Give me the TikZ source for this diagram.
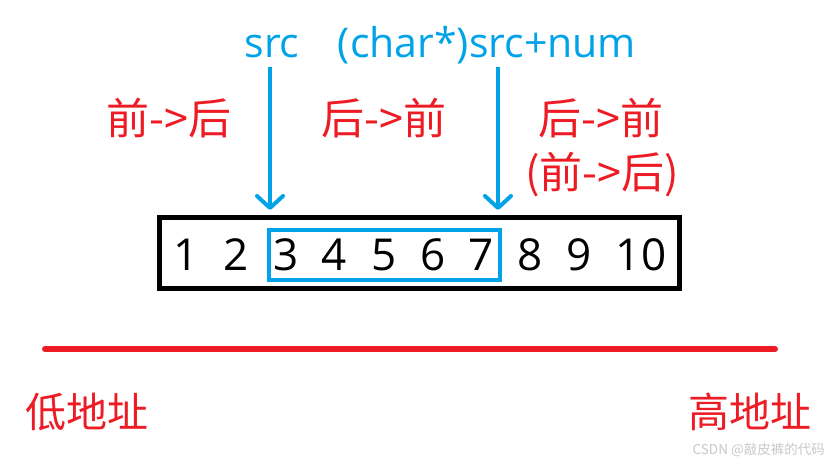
\documentclass[tikz,border=0pt]{standalone}
\usepackage{fontspec}
\setmainfont{Open Sans}
\newfontfamily\cjk{Noto Sans CJK SC}
\usetikzlibrary{arrows.meta}
\definecolor{myblue}{RGB}{0,162,232}
\definecolor{myred}{RGB}{237,28,36}
\definecolor{wmgray}{RGB}{200,200,200}
\tikzset{
  digit/.style={font=\fontsize{44}{44}\selectfont, text=black, inner sep=0pt},
  bluetext/.style={font=\fontsize{41}{41}\selectfont, text=myblue, inner sep=0pt},
  redtext/.style={font=\cjk\fontsize{43}{43}\selectfont, text=myred, inner sep=0pt},
  addrtext/.style={font=\cjk\fontsize{41}{41}\selectfont, text=myred, inner sep=0pt},
  ptrarrow/.style={draw=myblue, line width=4pt, -{Straight Barb[round, length=12pt, width=26pt]}},
}
\begin{document}
\begin{tikzpicture}[x=1pt,y=-1pt]
\useasboundingbox (0,0) rectangle (837,465);
% array box
\node[draw=black, line width=5pt, minimum width=520pt, minimum height=71pt, inner sep=0pt] (arr) at (419.5,253) {};
\node[draw=myblue, line width=4pt, minimum width=231pt, minimum height=50pt, inner sep=0pt] (sel) at (384.5,255) {};
% digits
\node[digit] (d1) at (186,255) {1};
\node[digit] (d2) at (236,255) {2};
\node[digit] (d3) at (286,255) {3};
\node[digit] (d4) at (334,255) {4};
\node[digit] (d5) at (384,255) {5};
\node[digit] (d6) at (433,255) {6};
\node[digit] (d7) at (481,255) {7};
\node[digit] (d8) at (530,255) {8};
\node[digit] (d9) at (579,255) {9};
\node[digit] (d10) at (641,255) {10};
% pointer labels
\node[bluetext, anchor=base] (src) at (272,58) {src};
\node[bluetext, anchor=base] (srcn) at (487,58) {(char*)src+num};
\coordinate (a1s) at (270,67);
\coordinate (a1e) at (270,210);
\coordinate (a2s) at (498,67);
\coordinate (a2e) at (498,210);
\draw[ptrarrow] (a1s) -- (a1e);
\draw[ptrarrow] (a2s) -- (a2e);
% direction labels
\node[redtext] (l1) at (169,118) {前->后};
\node[redtext] (l2) at (384,118) {后->前};
\node[redtext] (l3) at (601,118) {后->前};
\node[redtext] (l4) at (602,175) {(前->后)};
% address line
\coordinate (la) at (45,349);
\coordinate (lb) at (775,349);
\draw[myred, line width=6pt, line cap=round] (la) -- (lb);
\node[addrtext] (low) at (87,412) {低地址};
\node[addrtext] (high) at (750,412) {高地址};
% watermark
\node[font=\cjk\fontsize{13.5}{13.5}\selectfont, text=wmgray, anchor=east, inner sep=0pt] (wm) at (825,450) {CSDN @敲皮裤的代码};
\end{tikzpicture}
\end{document}
